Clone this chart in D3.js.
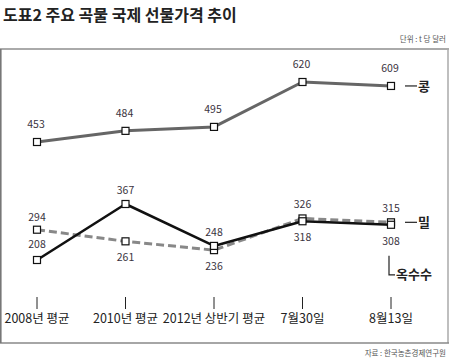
<!DOCTYPE html>
<html><head><meta charset="utf-8">
<script src="https://cdn.jsdelivr.net/npm/d3@7/dist/d3.min.js"></script>
<style>body{margin:0;background:#fff;}svg{display:block;font-family:"Noto Sans CJK KR","Noto Sans",sans-serif;}</style>
</head><body><svg id="c" width="450" height="363"></svg>
<script>
const categories = ["2008년 평균","2010년 평균","2012년 상반기 평균","7월30일","8월13일"];
const soybean = [453,484,495,620,609];
const wheat   = [294,261,236,326,315];
const corn    = [208,367,248,318,308];
const seriesNames = ["콩","밀","옥수수"];
const title = "도표2 주요 곡물 국제 선물가격 추이";
const unitText = "단위 : t 당 달러";
const sourceText = "자료 : 한국농촌경제연구원";

const svg = d3.select("#c");
const x = d3.scalePoint().domain(categories).range([37,391]);
// broken value axis: upper band for soybean, lower band for wheat/corn
const ySoy = d3.scaleLinear().domain([453,620]).range([142,82]);
const yGrain = d3.scaleLinear().domain([208,367]).range([260,204]);

svg.append("text").attr("x",3).attr("y",21).attr("font-size",16).attr("font-weight","bold")
  .attr("fill","#222").text(title);
svg.append("text").attr("x",446).attr("y",42).attr("text-anchor","end").attr("font-size",7.5)
  .attr("fill","#555").text(unitText);
svg.append("text").attr("x",446).attr("y",356).attr("text-anchor","end").attr("font-size",7.5)
  .attr("fill","#555").text(sourceText);

// frame
svg.append("line").attr("x1",0).attr("x2",449).attr("y1",49).attr("y2",49).attr("stroke","#aaa").attr("stroke-width",2);
svg.append("line").attr("x1",448).attr("x2",448).attr("y1",49).attr("y2",343).attr("stroke","#aaa").attr("stroke-width",1.5);
svg.append("line").attr("x1",0).attr("x2",449).attr("y1",343).attr("y2",343).attr("stroke","#888").attr("stroke-width",1.5);
svg.append("line").attr("x1",0.8).attr("x2",0.8).attr("y1",49).attr("y2",343).attr("stroke","#777").attr("stroke-width",1.6);

// x axis ticks & labels
const xa = svg.append("g");
xa.selectAll("line").data(categories).join("line")
  .attr("x1",d=>x(d)).attr("x2",d=>x(d)).attr("y1",297).attr("y2",309).attr("stroke","#222").attr("stroke-width",1);
xa.selectAll("text").data(categories).join("text")
  .attr("x",d=>x(d)).attr("y",323).attr("text-anchor","middle").attr("font-size",12.5).attr("fill","#222").text(d=>d);

const line = (ys)=>d3.line().x((d,i)=>x(categories[i])).y(d=>ys(d));

function drawSeries(vals, ys, color, width, dash){
  svg.append("path").datum(vals).attr("d",line(ys)).attr("fill","none").attr("stroke",color)
    .attr("stroke-width",width).attr("stroke-dasharray",dash||null).attr("stroke-linejoin","round");
}
drawSeries(soybean, ySoy, "#666", 3);
drawSeries(wheat, yGrain, "#888", 3, "8,4");
drawSeries(corn, yGrain, "#111", 2.6);

function markers(vals, ys){
  svg.append("g").selectAll("rect").data(vals).join("rect")
    .attr("x",(d,i)=>x(categories[i])-3.5).attr("y",d=>ys(d)-3.5).attr("width",7).attr("height",7)
    .attr("fill","#fff").attr("stroke","#111").attr("stroke-width",1.2);
}
markers(soybean, ySoy);
markers(wheat, yGrain);
markers(corn, yGrain);

// value labels
const lab = svg.append("g").attr("font-size",10.5).attr("fill","#3a3340").attr("text-anchor","middle");
soybean.forEach((v,i)=>{
  lab.append("text").attr("x",x(categories[i])-1).attr("y",ySoy(v)-14).text(v);
});
categories.forEach((c,i)=>{
  const w = wheat[i], k = corn[i];
  if(i===0){
    lab.append("text").attr("x",x(c)).attr("y",yGrain(w)-9).text(w);
    lab.append("text").attr("x",x(c)).attr("y",yGrain(k)-12).text(k);
  } else {
    const hi = Math.max(w,k), lo = Math.min(w,k);
    const top = Math.min(yGrain(w),yGrain(k)), bot = Math.max(yGrain(w),yGrain(k));
    lab.append("text").attr("x",x(c)).attr("y",top-10).text(hi);
    lab.append("text").attr("x",x(c)).attr("y",bot+20).text(lo);
  }
});

// series name labels
const n = categories.length-1, xe = x(categories[n]);
const nm = svg.append("g").attr("font-size",13).attr("font-weight","bold").attr("fill","#222");
[[soybean,ySoy,0],[wheat,yGrain,1]].forEach(([vals,ys,k])=>{
  const yy = ys(vals[n]);
  nm.append("line").attr("x1",xe+14).attr("x2",xe+26).attr("y1",yy).attr("y2",yy).attr("stroke","#222").attr("stroke-width",1.2);
  nm.append("text").attr("x",xe+27).attr("y",yy+5).text(seriesNames[k]);
});
const yc = yGrain(corn[n]);
nm.append("path").attr("d",`M${xe-2},${yc+31}V${yc+50}H${xe+4}`).attr("fill","none").attr("stroke","#222").attr("stroke-width",1.2);
nm.append("text").attr("x",xe+5).attr("y",yc+54).text(seriesNames[2]);
</script></body></html>
